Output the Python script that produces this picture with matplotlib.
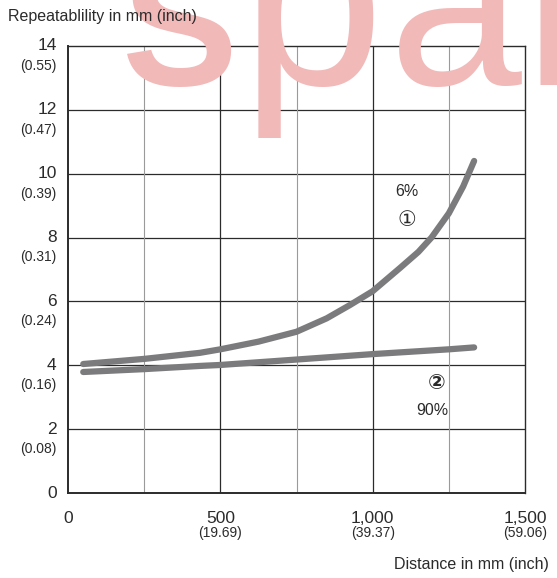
import numpy as np
import matplotlib
matplotlib.use('Agg')
import matplotlib.pyplot as plt

plt.rcParams['font.family'] = ['Liberation Sans', 'DejaVu Sans', 'Noto Sans CJK JP']

# distance in mm, repeatability in mm
dist_6 = [50, 250, 433, 500, 625, 750, 849, 926, 1000, 1090, 1150, 1193, 1250, 1297, 1333]
rep_6 = [4.04, 4.2, 4.39, 4.5, 4.74, 5.05, 5.47, 5.89, 6.32, 7.05, 7.55, 8.0, 8.76, 9.6, 10.4]
dist_90 = [50, 250, 433, 500, 750, 1000, 1250, 1333]
rep_90 = [3.79, 3.88, 3.98, 4.01, 4.18, 4.35, 4.5, 4.56]

y_ticks = [0, 2, 4, 6, 8, 10, 12, 14]
y_inch = ['', '(0.08)', '(0.16)', '(0.24)', '(0.31)', '(0.39)', '(0.47)', '(0.55)']
x_ticks = [0, 500, 1000, 1500]
x_main = ['0', '500', '1,000', '1,500']
x_inch = ['', '(19.69)', '(39.37)', '(59.06)']

dark = '#2b2b2b'
curve_col = '#7b7b7e'

fig = plt.figure(figsize=(5.57, 5.78), dpi=100)

# faint watermark behind everything, cut off at the top edge
for ch, xpx, fs in zip('Spar', [122, 240, 389, 522], [125, 185, 172, 185]):
    fig.text(xpx / 557, 1 - 85 / 578, ch, fontsize=fs,
             fontweight='bold' if ch == 'S' else 'normal',
             color='#f2b9b9', ha='left', va='baseline', zorder=0)

ax = fig.add_axes([68 / 557, 1 - 493 / 578, 457 / 557, 447 / 578])
ax.set_facecolor('none')
ax.set_xlim(0, 1500)
ax.set_ylim(0, 14)

for y in y_ticks[1:-1]:
    ax.axhline(y, color=dark, lw=0.9, zorder=1)
for x in [250, 750, 1250]:
    ax.axvline(x, color='#9a9a9a', lw=0.8, zorder=1)
for x in [500, 1000]:
    ax.axvline(x, color=dark, lw=0.9, zorder=1)

for s in ax.spines.values():
    s.set_color(dark)
    s.set_linewidth(1.0)
ax.spines['left'].set_linewidth(1.4)
ax.spines['bottom'].set_linewidth(1.4)

ax.plot(dist_6, rep_6, color=curve_col, lw=4.5, solid_capstyle='round',
        solid_joinstyle='round', zorder=3)
ax.plot(dist_90, rep_90, color=curve_col, lw=4.5, solid_capstyle='round',
        solid_joinstyle='round', zorder=3)

ax.set_xticks([])
ax.set_yticks([])

ytr = ax.get_yaxis_transform()
for y, inch in zip(y_ticks, y_inch):
    ax.text(-0.025, y, str(y), transform=ytr, ha='right', va='center',
            fontsize=12.5, color=dark)
    if inch:
        ax.text(-0.025, y - 0.62, inch, transform=ytr, ha='right', va='center',
                fontsize=10, color=dark)

xtr = ax.get_xaxis_transform()
for x, lab, inch in zip(x_ticks, x_main, x_inch):
    ax.text(x, -0.058, lab, transform=xtr, ha='center', va='center',
            fontsize=12.5, color=dark)
    if inch:
        ax.text(x, -0.09, inch, transform=xtr, ha='center', va='center',
                fontsize=10, color=dark)

fig.text(8 / 557, 1 - 17 / 578, 'Repeatablility in mm (inch)', ha='left',
         va='center', fontsize=11.5, color=dark)
fig.text(549 / 557, 1 - 565 / 578, 'Distance in mm (inch)', ha='right',
         va='center', fontsize=11.5, color=dark)

ax.text(1113, 9.43, '6%', ha='center', va='center', fontsize=11.5, color=dark)
ax.text(1113, 8.55, '\u2460', ha='center', va='center', fontsize=15, color=dark,
        family=['DejaVu Sans', 'Noto Sans CJK JP'])
ax.text(1210, 3.44, '\u2461', ha='center', va='center', fontsize=15, color=dark,
        fontweight='bold', family=['DejaVu Sans', 'Noto Sans CJK JP'])
ax.text(1195, 2.57, '90%', ha='center', va='center', fontsize=11.5, color=dark)

fig.savefig('out.png', dpi=100)
